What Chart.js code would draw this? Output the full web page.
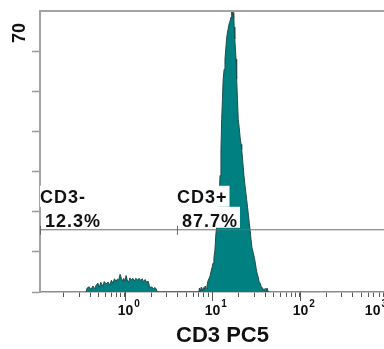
<!DOCTYPE html>
<html>
<head>
<meta charset="utf-8">
<script src="https://cdn.jsdelivr.net/npm/chart.js@4.4.1/dist/chart.umd.min.js"></script>
<style>
html, body { margin: 0; padding: 0; background: #fff; overflow: hidden; }
#wrap { width: 405px; height: 349px; }
</style>
</head>
<body>
<div id="wrap"><canvas id="chart_cd3" width="405" height="349"></canvas></div>
<script>
// CD3 PC5 histogram
var cd3Pc5 = [0.36, 0.37, 0.39, 0.41, 0.43, 0.45, 0.47, 0.49, 0.51, 0.53, 0.56, 0.58, 0.61, 0.64, 0.67, 0.70,
    0.73, 0.76, 0.79, 0.82, 0.85, 0.88, 0.91, 0.94, 0.97, 1.00, 1.03, 1.06, 1.10, 1.14, 1.18, 1.23, 1.28,
    1.33, 1.39, 1.45, 1.51, 1.57, 1.63, 1.70, 1.77, 1.84, 1.90, 1.96, 2.03, 2.10, 2.18, 2.26, 2.35,
    7.0, 7.1, 7.25, 7.45, 7.65, 7.85, 8.05, 8.25,
    8.45, 8.65, 8.9, 9.15, 9.4, 9.65, 9.9, 10.15, 10.4, 10.65, 10.95, 11.2, 11.45, 11.7, 11.95, 12.2,
    12.5, 12.75, 13.0, 13.25, 13.6, 13.9, 14.2, 14.5, 14.8, 15.1, 15.5, 15.9, 16.3, 16.6, 16.9, 17.1,
    17.3, 17.5, 17.7, 18.0, 18.3, 18.6, 18.9, 19.3, 19.7, 20.2, 20.7, 21.2, 21.6, 22.3, 22.9, 23.7,
    24.6, 25.2, 25.8, 26.4, 26.9, 27.6, 28.3, 29.2, 30.1, 30.8, 31.6, 32.4, 33.2, 34.1, 35.0, 36.0,
    37.0, 38.0, 39.0, 40.0, 40.8, 41.6, 42.4, 43.2, 45];
var events = [0, 1.0, 1.3, 0.6, 1.5, 0.8, 1.7, 2.2, 1.2, 2.4, 1.4, 2.6, 2.0, 2.5, 1.7, 2.9,
    2.2, 3.3, 2.6, 3.2, 3.0, 4.4, 3.4, 2.7, 3.4, 2.6, 4.1, 3.0, 2.4, 3.5, 3.0, 3.4, 2.7,
    3.4, 3.0, 3.4, 2.9, 3.3, 2.6, 3.1, 2.4, 2.7, 1.6, 1.0, 1.3, 0.7, 1.1, 0.9, 0,
    0, 1.0, 0.2, 1.2, 0.3, 1.1, 0.6, 1.5,
    0.8, 1.5, 2.8, 3.4, 4.0, 5.2, 6.1, 7.2, 8.6, 10.2, 14.5, 16.5, 18.5, 21.0, 24.0, 29.0,
    35.5, 43.0, 48.0, 53.0, 55.5, 58.0, 60.5, 63.0, 64.5, 65.5, 66.8, 67.5, 68.5, 69.8, 69.0, 70.0,
    68.2, 69.6, 66.0, 63.0, 60.5, 58.0, 53.0, 48.0, 43.0, 41.0, 38.5, 36.8, 35.5, 32.0, 29.0, 26.0,
    23.0, 21.0, 19.0, 17.0, 15.5, 13.0, 11.0, 9.8, 8.6, 7.4, 5.8, 4.6, 3.8, 2.6, 2.2, 1.4,
    1.1, 0.6, 0.8, 0, 1.0, 0.2, 0.9, 0, 0];

var gateNames = ['CD3-', 'CD3+'];
var gatePercents = ['12.3%', '87.7%'];
var gateStarts = [0.107, 3.93];
var gateEnd = 1585;
var gateLevel = 15.5;
var yMax = 70;
var xDecades = [-1, 0, 1, 2, 3];
var xTickExponents = {1: '0', 10: '1', 100: '2', 1000: '3'};

var histData = cd3Pc5.map(function (x, i) { return {x: x, y: events[i]}; });
var gateData = [{x: gateStarts[0], y: gateLevel}, {x: gateEnd, y: gateLevel}];
var FONT = '"Liberation Sans", Arial, sans-serif';

var decorations = {
    id: 'decorations',
    afterDatasetsDraw: function (chart) {
        var ctx = chart.ctx, xs = chart.scales.x, ys = chart.scales.y, area = chart.chartArea;
        var yLine = ys.getPixelForValue(gateLevel);
        ctx.save();
        // top frame line
        ctx.strokeStyle = '#a3a3a3';
        ctx.lineWidth = 2;
        ctx.beginPath();
        ctx.moveTo(area.left - 1, ys.getPixelForValue(yMax));
        ctx.lineTo(area.right, ys.getPixelForValue(yMax));
        ctx.stroke();
        // gate labels
        ctx.font = 'bold 18px ' + FONT;
        ctx.letterSpacing = '1px';
        gateNames.forEach(function (name, i) {
            var x0 = xs.getPixelForValue(gateStarts[i]);
            var w1 = ctx.measureText(name).width;
            var w2 = ctx.measureText(gatePercents[i]).width;
            ctx.fillStyle = '#fff';
            ctx.fillRect(x0, yLine - 44, w1 + 2, 21);
            ctx.fillRect(x0 + 4, yLine - 23, w2 + 3, 21);
            ctx.fillStyle = '#111';
            ctx.fillText(name, x0, yLine - 27);
            ctx.fillText(gatePercents[i], x0 + 5, yLine - 3);
            ctx.strokeStyle = '#666';
            ctx.lineWidth = 1;
            ctx.beginPath();
            ctx.moveTo(x0 + 0.5, yLine - 4);
            ctx.lineTo(x0 + 0.5, yLine + 5);
            ctx.stroke();
        });
        ctx.restore();
    },
    afterDraw: function (chart) {
        var ctx = chart.ctx, xs = chart.scales.x;
        ctx.save();
        ctx.strokeStyle = '#555';
        ctx.lineWidth = 1;
        ctx.fillStyle = '#111';
        ctx.textBaseline = 'alphabetic';
        xs.ticks.forEach(function (t) {
            if (!t.major) return;
            var px = Math.round(xs.getPixelForValue(t.value)) + 0.5;
            // longer mark at each decade
            ctx.beginPath();
            ctx.moveTo(px, xs.top);
            ctx.lineTo(px, xs.top + 9);
            ctx.stroke();
            // decade label 10^n
            var exp = xTickExponents[Math.round(t.value * 1000) / 1000];
            ctx.font = 'bold 14px ' + FONT;
            var wBase = ctx.measureText('10').width;
            ctx.font = 'bold 10px ' + FONT;
            var wExp = ctx.measureText(exp).width;
            var x0 = Math.min(px - wBase / 2, 387 - wBase - wExp - 1);
            ctx.font = 'bold 14px ' + FONT;
            ctx.fillText('10', x0, xs.top + 23);
            ctx.font = 'bold 10px ' + FONT;
            ctx.fillText(exp, x0 + wBase + 1, xs.top + 15);
        });
        // y label at the top
        ctx.translate(20.5, 33);
        ctx.rotate(-Math.PI / 2);
        ctx.font = 'bold 18px ' + FONT;
        ctx.textAlign = 'center';
        ctx.textBaseline = 'middle';
        ctx.fillText(String(yMax), 0, 0);
        ctx.restore();
    }
};

var chart = new Chart(document.getElementById('chart_cd3').getContext('2d'), {
    type: 'line',
    data: {
        datasets: [{
            label: 'gate',
            data: gateData,
            borderColor: '#6e6e6e',
            borderWidth: 1,
            pointRadius: 0,
            fill: false
        }, {
            label: 'CD3 PC5',
            data: histData,
            borderColor: '#1e4d4d',
            borderWidth: 1,
            backgroundColor: '#008080',
            pointRadius: 0,
            tension: 0,
            fill: 'origin'
        }]
    },
    options: {
        responsive: false,
        animation: false,
        devicePixelRatio: 1,
        layout: {padding: {top: 11, left: 0, right: 0, bottom: 0}},
        plugins: {legend: {display: false}, tooltip: {enabled: false}},
        scales: {
            x: {
                type: 'logarithmic',
                min: 0.107,
                max: gateEnd,
                afterBuildTicks: function (scale) {
                    var ticks = [];
                    xDecades.forEach(function (d) {
                        for (var m = 1; m <= 9; m++) {
                            var v = m * Math.pow(10, d);
                            if (v >= scale.min && v <= scale.max) ticks.push({value: v, major: m === 1});
                        }
                    });
                    scale.ticks = ticks;
                },
                afterFit: function (scale) { scale.height = 57; },
                ticks: {
                    autoSkip: false,
                    maxRotation: 0,
                    callback: function () { return ''; }
                },
                grid: {drawOnChartArea: false, tickLength: 5, tickColor: '#555', tickWidth: 1},
                border: {color: '#8c8c8c', width: 1.5},
                title: {
                    display: true,
                    text: 'CD3 PC5',
                    color: '#111',
                    font: {family: FONT, size: 22, weight: 'bold'},
                    padding: {top: 0, bottom: 0}
                }
            },
            y: {
                min: 0,
                max: yMax,
                ticks: {display: false, stepSize: 10},
                afterFit: function (scale) { scale.width = 40; },
                grid: {
                    drawOnChartArea: false,
                    tickLength: 8,
                    tickWidth: 1.5,
                    tickColor: function (c) { return c.tick && c.tick.value === yMax ? 'rgba(0,0,0,0)' : '#9a9a9a'; }
                },
                border: {color: '#a3a3a3', width: 2}
            }
        }
    },
    plugins: [decorations]
});
</script>
</body>
</html>
